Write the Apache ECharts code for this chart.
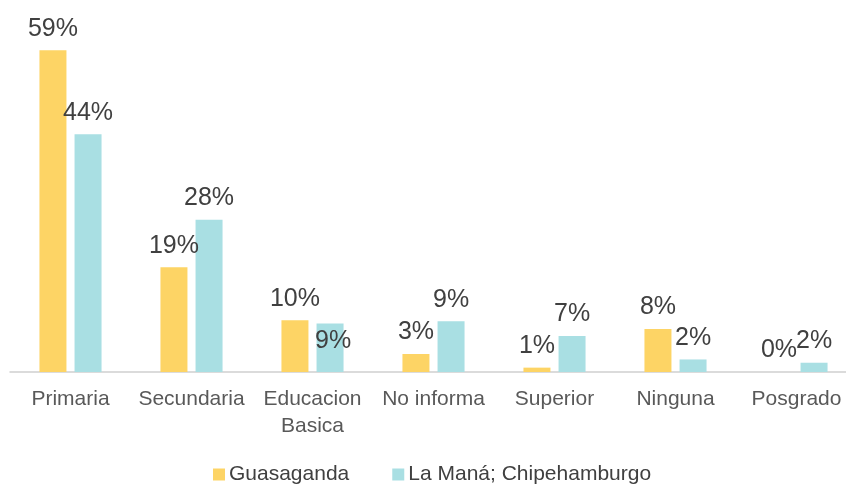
<!DOCTYPE html>
<html>
<head>
<meta charset="utf-8">
<script src="https://cdn.jsdelivr.net/npm/echarts@6/dist/echarts.min.js"></script>
<style>
  html, body { margin: 0; padding: 0; background: #fff; overflow: hidden; }
  /* el grafico original sale recortado por la derecha: lienzo un poco mas ancho */
  #chart { width: 857px; height: 485px; }
</style>
</head>
<body>
<div id="chart"></div>
<script>
// categorias y valores (%)
const categories = ['Primaria', 'Secundaria', 'Educacion\nBasica', 'No informa', 'Superior', 'Ninguna', 'Posgrado'];
const guasaganda = [59, 19.2, 9.5, 3.3, 0.8, 7.9, 0];
const lamana = [43.6, 27.9, 8.9, 9.3, 6.6, 2.3, 1.7];
const seriesNames = ['Guasaganda', 'La Maná; Chipehamburgo'];

const FONT = '"Liberation Sans", Arial, sans-serif';
const chart = echarts.init(document.getElementById('chart'));

const labelStyle = {
    show: true,
    position: 'top',
    distance: 9,
    fontSize: 25,
    color: '#404040',
    fontFamily: FONT,
    formatter: p => Math.round(p.value) + '%'
};

chart.setOption({
    backgroundColor: '#fff',
    animation: false,
    grid: { left: 10, right: 0, top: 0, bottom: 113 },
    legend: {
        left: 208, top: 459,
        icon: 'rect', itemWidth: 12, itemHeight: 12, itemGap: 43,
        textStyle: { fontSize: 21, color: '#404040', fontFamily: FONT, padding: [0, 0, 0, -1] },
        data: seriesNames
    },
    xAxis: {
        type: 'category',
        data: categories,
        axisLine: { lineStyle: { color: '#d0d0d0', width: 1.5 } },
        axisTick: { show: false },
        axisLabel: { fontSize: 21, color: '#595959', fontFamily: FONT, margin: 14, lineHeight: 27, interval: 0 }
    },
    yAxis: { type: 'value', min: 0, max: 68.2, show: false, splitLine: { show: false } },
    series: [
        {
            name: seriesNames[0], type: 'bar', barWidth: 27, barGap: '30%',
            itemStyle: { color: '#FDD465' },
            label: labelStyle,
            data: guasaganda
        },
        {
            name: seriesNames[1], type: 'bar', barWidth: 27,
            itemStyle: { color: '#A9DFE3' },
            label: labelStyle,
            // la etiqueta de Educacion Basica va dentro de la barra, como en el original
            data: lamana.map((v, i) => i === 2 ? { value: v, label: { offset: [3, 39] } } : v)
        }
    ]
});
</script>
</body>
</html>
